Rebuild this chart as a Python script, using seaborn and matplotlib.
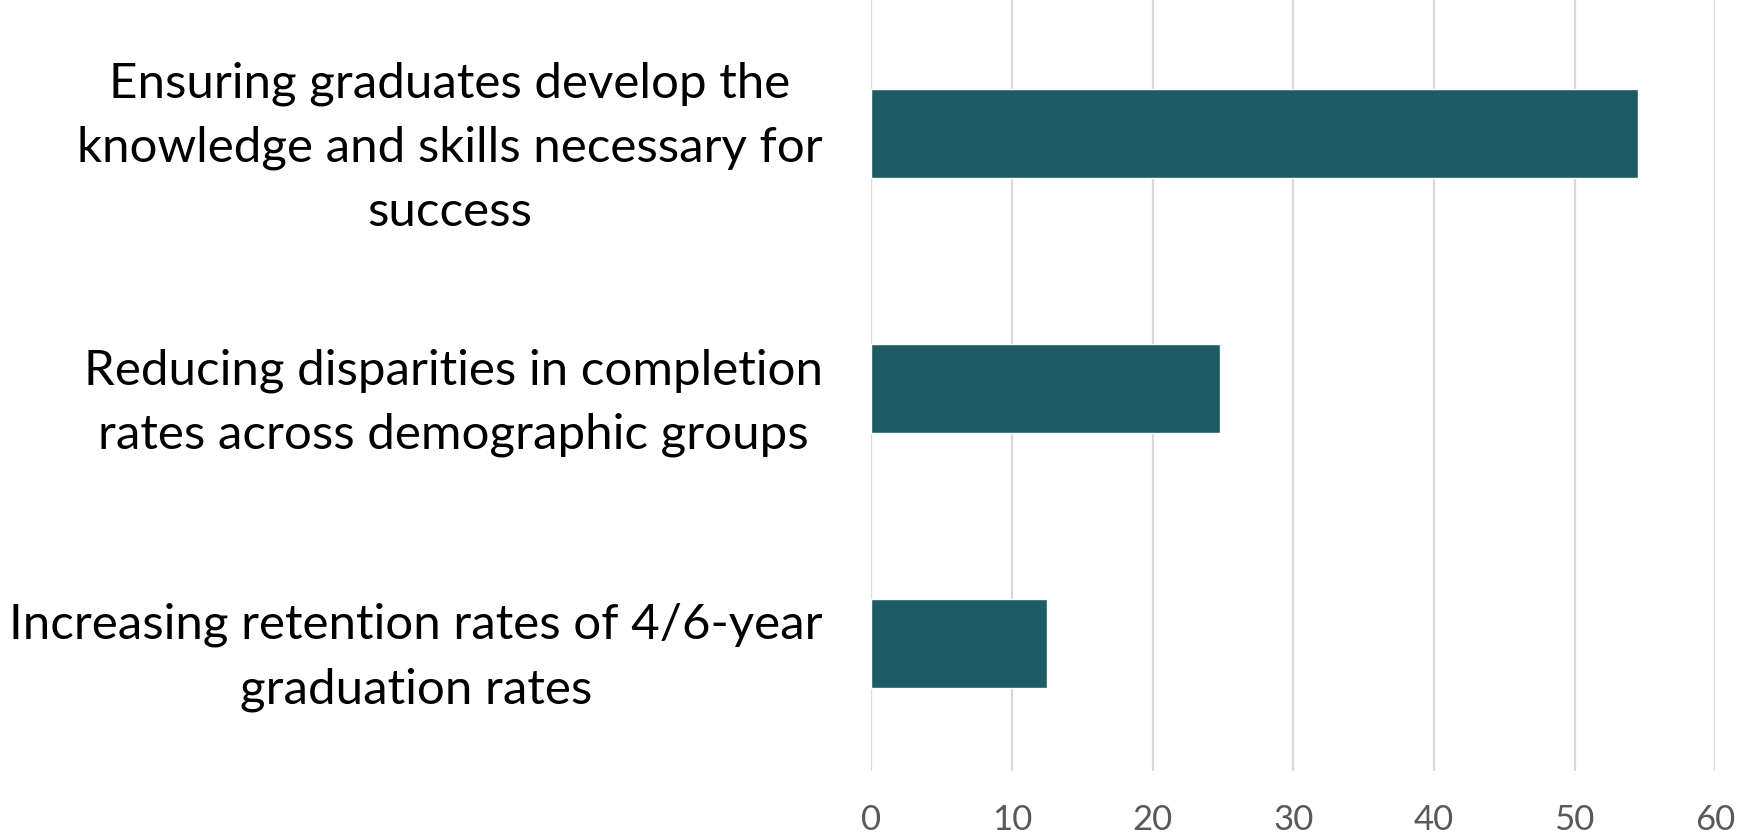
import matplotlib
matplotlib.use("Agg")
import matplotlib.pyplot as plt
import seaborn as sns
import pandas as pd

categories = [
    "Ensuring graduates develop the\nknowledge and skills necessary for\nsuccess",
    "Reducing disparities in completion\nrates across demographic groups",
    "Increasing retention rates of 4/6-year\ngraduation rates",
]
values = [54.5, 24.8, 12.5]
x_ticks = [0, 10, 20, 30, 40, 50, 60]

df = pd.DataFrame({"category": categories, "value": values})

sns.set_theme(style="white")
plt.rcParams["font.family"] = ["Lato", "DejaVu Sans"]

fig = plt.figure(figsize=(17.52, 8.35), dpi=100)
ax = fig.add_axes([0.4974, 0.0766, 0.4816, 0.9234])

sns.barplot(data=df, y="category", x="value", orient="h", color="#1D5B66",
            saturation=1, width=0.35, ax=ax)

ax.set_xlim(0, 60)
ax.set_ylim(2.502, -0.525)
ax.set_xticks(x_ticks)
ax.set_xticklabels([str(t) for t in x_ticks], fontsize=25, color="#595959")
ax.grid(axis="x", color="#D9D9D9", linewidth=1.6)
ax.set_axisbelow(True)
for s in ax.spines.values():
    s.set_visible(False)
ax.tick_params(axis="x", length=0, pad=24)
ax.tick_params(axis="y", length=0, pad=35)
for lbl in ax.get_yticklabels():
    lbl.set_fontsize(35.5)
    lbl.set_color("#000000")
    lbl.set_ha("right")
    lbl.set_multialignment("center")
    lbl.set_linespacing(1.55)
ax.set_xlabel("")
ax.set_ylabel("")

fig.savefig("out.png", dpi=100)
